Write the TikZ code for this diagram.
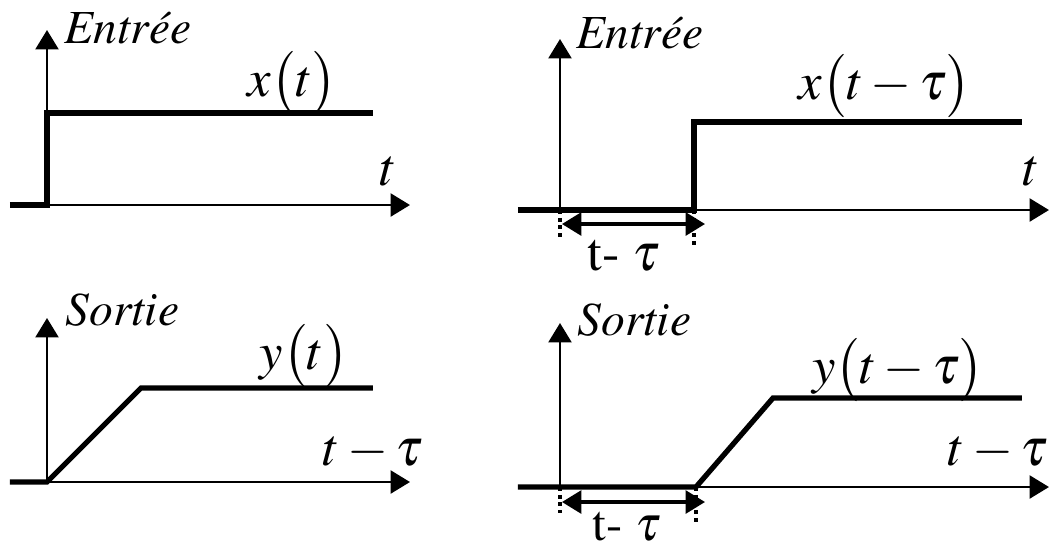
\documentclass[tikz,border=0pt]{standalone}
\usepackage[T1]{fontenc}
\usepackage{mathptmx}
\usepackage{tikz}
\usetikzlibrary{positioning, arrows.meta, calc}

\begin{document}
\begin{tikzpicture}[x=0.01cm, y=-0.01cm]
    % Styles
    \tikzstyle{axis} = [line width=0.75pt, -{Triangle[width=6.5pt, length=5.5pt]}]
    \tikzstyle{signal} = [line width=1.5pt, line join=miter]
    \tikzstyle{delay} = [line width=0.9pt, {Triangle[width=6.5pt, length=5.5pt]}-{Triangle[width=6.5pt, length=5.5pt]}]
    \tikzstyle{guide} = [line width=1.1pt, dash pattern=on 1.1pt off 1.1pt]
    \tikzstyle{title} = [inner sep=0pt, anchor=base west, font=\fontsize{13.5}{15}\selectfont\itshape]
    \tikzstyle{label} = [inner sep=0pt, anchor=base, font=\fontsize{15}{17}\selectfont]

    \useasboundingbox (0,0) rectangle (1053,550);

    % Entree x(t)
    \coordinate (O1) at (47,205);
    \coordinate (S1) at (10,205);
    \coordinate (X1) at (410,205);
    \coordinate (Y1) at (47,30);
    \coordinate (U1) at (47,113);
    \coordinate (E1) at (373,113);
    \draw [axis] (O1) -- (X1);
    \draw [axis] (O1) -- (Y1);
    \draw [signal] (S1) -- (O1) -- (U1) -- (E1);
    \node (In1) [title] at (64,43) {Entrée};
    \node (Sig1) [label] at (292,96) {$x\bigl(t\bigr)$};
    \node (T1) [label] at (388,185) {$t$};

    % Entree x(t-tau)
    \coordinate (O2) at (560,210);
    \coordinate (S2) at (518,210);
    \coordinate (X2) at (1049,210);
    \coordinate (Y2) at (560,39);
    \coordinate (D2) at (694,210);
    \coordinate (U2) at (694,122);
    \coordinate (E2) at (1022,122);
    \draw [axis] (O2) -- (X2);
    \draw [axis] (O2) -- (Y2);
    \draw [signal] (S2) -- (D2) -- (U2) -- (E2);
    \node (In2) [title] at (576,48) {Entrée};
    \node (Sig2) [label] at (885,99) {$x\bigl(t-\tau\bigr)$};
    \node (T2) [label] at (1031,185) {$t$};

    % delay between O2 and D2
    \coordinate (L2) at (560,238);
    \coordinate (R2) at (694,247);
    \draw [guide] (O2) -- (L2);
    \draw [guide] (D2) -- (R2);
    \draw [delay] ($(O2)+(2,14)$) -- ($(D2)+(11,14)$);
    \node (Tau2) [label] at (624,270) {t- $\tau$};

    % Sortie y(t)
    \coordinate (O3) at (47,482);
    \coordinate (S3) at (10,482);
    \coordinate (X3) at (410,482);
    \coordinate (Y3) at (47,318);
    \coordinate (U3) at (141,388);
    \coordinate (E3) at (373,388);
    \draw [axis] (O3) -- (X3);
    \draw [axis] (O3) -- (Y3);
    \draw [signal] (S3) -- (O3) -- (U3) -- (E3);
    \node (Out3) [title] at (65,325) {Sortie};
    \node (Sig3) [label] at (304,369) {$y\bigl(t\bigr)$};
    \node (T3) [label] at (373,465) {$t-\tau$};

    % Sortie y(t-tau)
    \coordinate (O4) at (560,487);
    \coordinate (S4) at (518,487);
    \coordinate (X4) at (1049,487);
    \coordinate (Y4) at (560,323);
    \coordinate (D4) at (696,487);
    \coordinate (U4) at (773,398);
    \coordinate (E4) at (1022,398);
    \draw [axis] (O4) -- (X4);
    \draw [axis] (O4) -- (Y4);
    \draw [signal] (S4) -- (D4) -- (U4) -- (E4);
    \node (Out4) [title] at (577,335) {Sortie};
    \node (Sig4) [label] at (898,383) {$y\bigl(t-\tau\bigr)$};
    \node (T4) [label, anchor=base east] at (1049,465) {$t-\tau$};

    % delay between O4 and D4
    \coordinate (L4) at (560,513);
    \coordinate (R4) at (696,522);
    \draw [guide] (O4) -- (L4);
    \draw [guide] (D4) -- (R4);
    \draw [delay] ($(O4)+(2,15)$) -- ($(D4)+(9,15)$);
    \node (Tau4) [label, font=\fontsize{14}{16}\selectfont] at (627,540) {t- $\tau$};

\end{tikzpicture}
\end{document}
